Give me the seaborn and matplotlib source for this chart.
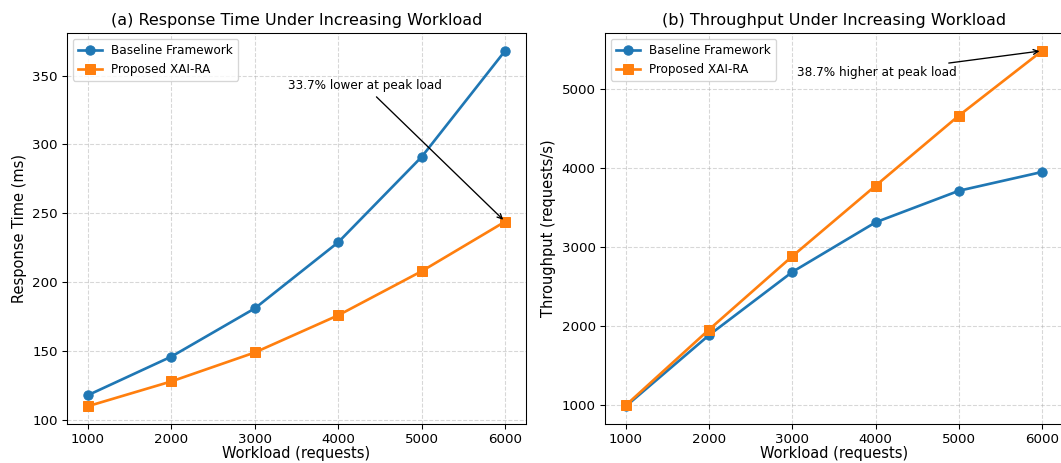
import matplotlib
matplotlib.use("Agg")
import matplotlib.pyplot as plt
import seaborn as sns
import pandas as pd

workload = [1000, 2000, 3000, 4000, 5000, 6000]
rt_baseline = [118, 146, 181, 229, 291, 368]
rt_proposed = [110, 128, 149, 176, 208, 244]
tp_baseline = [983, 1883, 2682, 3310, 3709, 3947]
tp_proposed = [995, 1953, 2881, 3773, 4660, 5480]

series_names = ["Baseline Framework", "Proposed XAI-RA"]
colors = ["#1f77b4", "#ff7f0e"]
markers = ["o", "s"]

DPI = 96
fig = plt.figure(figsize=(1061 / DPI, 463 / DPI), dpi=DPI)
ax1 = fig.add_axes([67 / 1061, 39 / 463, 459 / 1061, 391 / 463])
ax2 = fig.add_axes([605 / 1061, 39 / 463, 458 / 1061, 391 / 463])

def draw(ax, base, prop, title, ylabel):
    for vals, name, c, m in zip([base, prop], series_names, colors, markers):
        df = pd.DataFrame({"x": workload, "y": vals})
        sns.lineplot(data=df, x="x", y="y", ax=ax, color=c, marker=m,
                     markersize=7, linewidth=2, markeredgecolor=c,
                     label=name)
    ax.set_title(title, fontsize=12)
    ax.set_xlabel("Workload (requests)", fontsize=11, labelpad=0)
    ax.set_ylabel(ylabel, fontsize=11)
    ax.set_xticks(workload)
    ax.tick_params(labelsize=10)
    ax.grid(True, linestyle="--", alpha=0.5)
    ax.legend(loc="upper left", fontsize=9)

draw(ax1, rt_baseline, rt_proposed,
     "(a) Response Time Under Increasing Workload", "Response Time (ms)")
draw(ax2, tp_baseline, tp_proposed,
     "(b) Throughput Under Increasing Workload", "Throughput (requests/s)")

ax1.annotate("33.7% lower at peak load", xy=(workload[-1], rt_proposed[-1]),
             xytext=(3400, 340), fontsize=9,
             arrowprops=dict(arrowstyle="->", color="black"))
ax2.annotate("38.7% higher at peak load", xy=(workload[-1], tp_proposed[-1]),
             xytext=(3050, 5160), fontsize=9,
             arrowprops=dict(arrowstyle="->", color="black"))

fig.savefig("out.png", dpi=DPI)
